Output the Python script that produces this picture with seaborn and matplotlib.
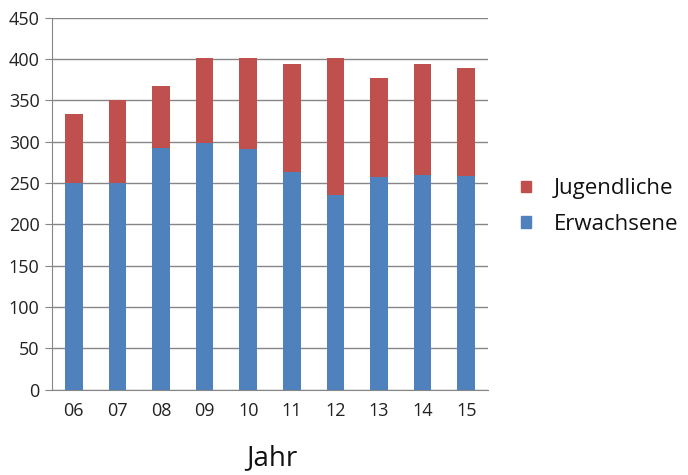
import matplotlib
matplotlib.use("Agg")
import matplotlib.pyplot as plt
from matplotlib.patches import Patch
import seaborn as sns
import pandas as pd

# data
jahre = ["06", "07", "08", "09", "10", "11", "12", "13", "14", "15"]
erwachsene = [250, 250, 292, 298, 291, 263, 235, 257, 260, 258]
jugendliche = [83, 100, 75, 103, 110, 131, 166, 120, 134, 131]

df = pd.DataFrame({"Jahr": jahre, "Erwachsene": erwachsene, "Jugendliche": jugendliche})
df["Gesamt"] = df["Erwachsene"] + df["Jugendliche"]

blau = "#4F81BD"
rot = "#C0504D"

sns.set_style("white")
plt.rcParams["font.family"] = ["Open Sans", "DejaVu Sans"]

fig = plt.figure(figsize=(6.88, 4.75), dpi=100)
ax = fig.add_axes([0.0756, 0.1796, 0.6337, 0.7831])

# stacked: total in red, adults in blue on top of it
sns.barplot(data=df, x="Jahr", y="Gesamt", color=rot, width=0.4, saturation=1,
            linewidth=0, ax=ax, zorder=3)
sns.barplot(data=df, x="Jahr", y="Erwachsene", color=blau, width=0.4, saturation=1,
            linewidth=0, ax=ax, zorder=3)

ax.set_ylim(0, 450)
ax.set_yticks(range(0, 451, 50))
ax.set_xlim(-0.5, len(jahre) - 0.5)
ax.yaxis.grid(True, color="#868686", linewidth=1)
ax.set_axisbelow(True)
for s in ["top", "right"]:
    ax.spines[s].set_visible(False)
for s in ["left", "bottom"]:
    ax.spines[s].set_color("#868686")
ax.tick_params(axis="y", length=5, color="#868686", labelsize=13, pad=4, left=True,
               labelcolor="#222222")
ax.tick_params(axis="x", length=0, labelsize=13, pad=9, labelcolor="#222222")
ax.set_ylabel("")
ax.set_xlabel("Jahr", fontsize=20, color="#111111")
ax.xaxis.set_label_coords(0.505, -0.145)

handles = [Patch(color=rot), Patch(color=blau)]
fig.legend(handles, ["Jugendliche", "Erwachsene"], loc="center left",
           bbox_to_anchor=(0.735, 0.565), frameon=False, fontsize=16,
           handlelength=0.45, handleheight=0.45, handletextpad=1.0, labelspacing=0.65,
           borderpad=0.2, labelcolor="#111111")

fig.savefig("out.png", dpi=100)
